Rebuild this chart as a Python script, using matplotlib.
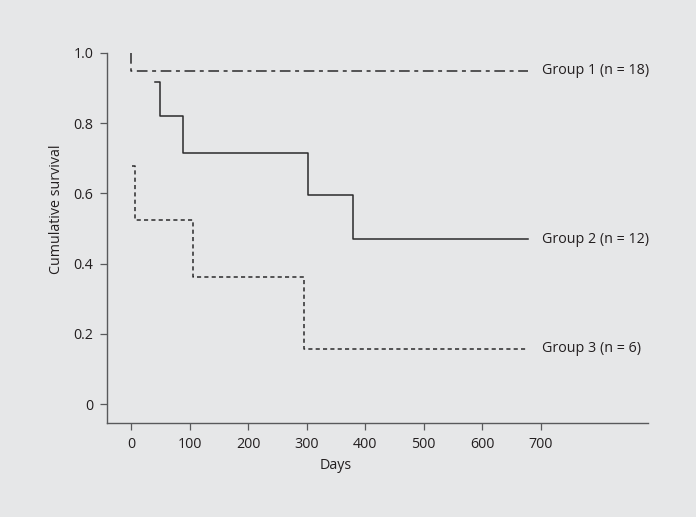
import matplotlib.pyplot as plt

# survival curves (step, where='post')
g1_days = [0, 0, 679]
g1_surv = [1.0, 0.95, 0.95]

g2_days = [41, 50, 88, 302, 379, 679]
g2_surv = [0.918, 0.82, 0.716, 0.595, 0.47, 0.47]

g3_days = [2, 7, 106, 295, 679]
g3_surv = [0.679, 0.524, 0.363, 0.157, 0.157]

labels = ['Group 1 (n = 18)', 'Group 2 (n = 12)', 'Group 3 (n = 6)']
label_x = 703
label_y = [0.95, 0.47, 0.157]

xticks = [0, 100, 200, 300, 400, 500, 600, 700]
yticks = [0, 0.2, 0.4, 0.6, 0.8, 1.0]
yticklabels = ['0', '0.2', '0.4', '0.6', '0.8', '1.0']

bg = '#e6e7e8'
ink = '#231f20'
axis_col = '#58595b'
line_col = '#2b2b2b'
fs = 10.3

plt.rcParams['font.family'] = ['Open Sans', 'DejaVu Sans']

fig = plt.figure(figsize=(6.96, 5.17), dpi=100, facecolor=bg)
ax = fig.add_axes([0.1542, 0.1812, 0.7764, 0.7163])
ax.set_facecolor(bg)

# three groups: long/short dash, solid, short dash
ax.step(g1_days, g1_surv, where='post', color=line_col, lw=1.1,
        linestyle=(0, (7, 3, 2.6, 3)))
ax.step(g2_days, g2_surv, where='post', color=line_col, lw=1.1)
ax.step(g3_days, g3_surv, where='post', color=line_col, lw=1.1,
        linestyle=(0, (2.7, 2.1)))

for txt, yy in zip(labels, label_y):
    ax.text(label_x, yy, txt, ha='left', va='center', fontsize=fs, color=ink)

ax.set_xlim(-40.5, 883)
ax.set_ylim(-0.055, 1.0)
ax.set_xticks(xticks)
ax.set_xticklabels([str(t) for t in xticks])
ax.set_yticks(yticks)
ax.set_yticklabels(yticklabels)

for s in ['top', 'right']:
    ax.spines[s].set_visible(False)
for s in ['left', 'bottom']:
    ax.spines[s].set_color(axis_col)
    ax.spines[s].set_linewidth(1.0)

ax.tick_params(direction='out', length=5, width=0.9, color=axis_col,
               labelcolor=ink, labelsize=fs, pad=5)

ax.set_xlabel('Days', fontsize=fs, color=ink)
ax.xaxis.set_label_coords(0.4226, -0.1126)
ax.xaxis.label.set_va('center')
ax.set_ylabel('Cumulative survival', fontsize=fs, color=ink)
ax.yaxis.set_label_coords(-0.094, 0.579)
ax.yaxis.label.set_va('center')

fig.savefig('out.png', dpi=100, facecolor=bg)
